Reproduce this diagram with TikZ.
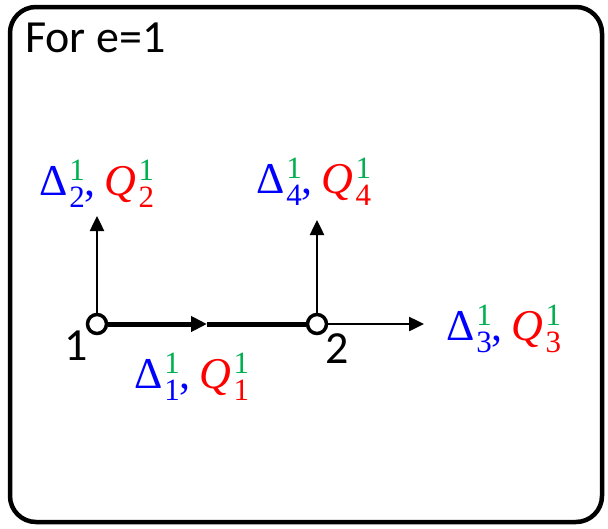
\documentclass[tikz,border=0pt]{standalone}
\usepackage{xcolor}
\usepackage{fontspec}
\setmainfont{Carlito}
\newfontfamily\lblfont{Liberation Serif}
\usetikzlibrary{arrows.meta}

\definecolor{dblue}{RGB}{0,0,255}
\definecolor{dgreen}{RGB}{0,176,80}
\definecolor{dred}{RGB}{255,0,0}

% index pair: green superscript 1 over a subscript
\newcommand{\subsup}[1]{\rlap{\raisebox{15pt}{\textcolor{dgreen}{\fontsize{31}{32}\selectfont\upshape 1}}}\raisebox{-12pt}{\fontsize{31}{32}\selectfont\upshape #1}}
\newcommand{\flowlbl}[1]{{\lblfont\color{dblue}Δ\hspace{1pt}\subsup{#1},\hspace{9pt}\color{dred}\itshape Q\hspace{2pt}\subsup{#1}}}

\begin{document}
\begin{tikzpicture}[x=1pt,y=-1pt,
    vertex/.style={circle,draw,line width=3.5pt,fill=white,inner sep=0pt,minimum size=19pt},
    flow/.style={font=\fontsize{44}{48}\selectfont,anchor=base,inner sep=0pt},
    txt/.style={font=\fontsize{46}{52}\selectfont,inner sep=0pt},
    branch/.style={line width=2.5pt,-{Triangle[length=15pt,width=14pt]}}]
  \useasboundingbox (0,0) rectangle (608,528);
  \draw[line width=4.5pt,rounded corners=26pt] (10,7) rectangle (602,522);

  \node[txt,anchor=base west] (title) at (25,52) {For e=1};

  \coordinate (M)  at (207,324);
  \coordinate (U1) at (97,216);
  \coordinate (U2) at (317,220);
  \coordinate (R2) at (424,324);

  \node[vertex] (n1) at (97,324) {};
  \node[vertex] (n2) at (317,324) {};

  \draw[line width=5pt,-{Triangle[length=16pt,width=15pt]}] (n1) -- (M);
  \draw[line width=5pt] (M) -- (n2);
  \draw[branch] (n1) -- (U1);
  \draw[branch] (n2) -- (U2);
  \draw[branch] (n2) -- (R2);

  \node[txt,anchor=base] (k1) at (76,360) {1};
  \node[txt,anchor=base] (k2) at (337,363) {2};

  \node[flow] (f1) at (192,388) {\flowlbl{1}};
  \node[flow] (f2) at (97,195)  {\flowlbl{2}};
  \node[flow] (f3) at (504,340) {\flowlbl{3}};
  \node[flow] (f4) at (314,193) {\flowlbl{4}};
\end{tikzpicture}
\end{document}
